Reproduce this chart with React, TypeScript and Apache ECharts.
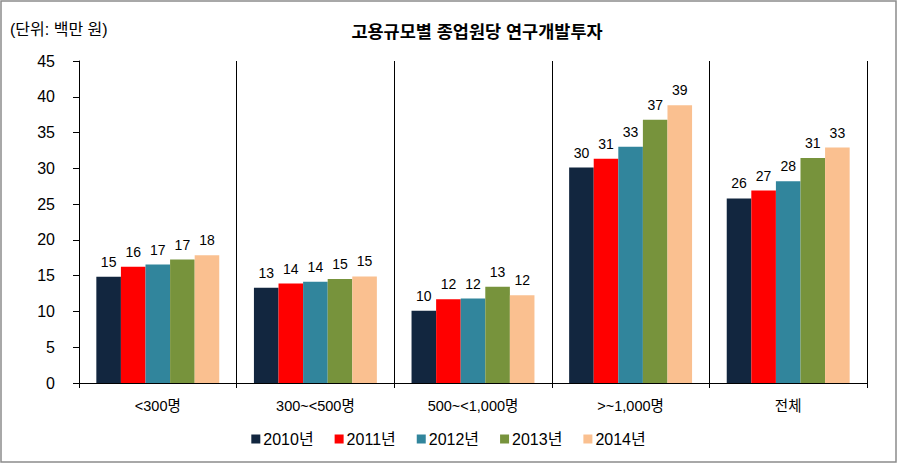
import React, { useEffect, useRef } from "react";
import * as echarts from "echarts";

const categories = ["<300명", "300~<500명", "500~<1,000명", ">~1,000명", "전체"];
const seriesNames = ["2010년", "2011년", "2012년", "2013년", "2014년"];
const v2010 = [14.85, 13.3, 10.1, 30.1, 25.8];
const v2011 = [16.25, 13.9, 11.7, 31.35, 26.9];
const v2012 = [16.55, 14.15, 11.8, 33.0, 28.2];
const v2013 = [17.25, 14.55, 13.45, 36.8, 31.45];
const v2014 = [17.85, 14.9, 12.25, 38.8, 32.9];
const colors = ["#12263F", "#FF0000", "#31859C", "#77933C", "#FAC090"];
const yTicks = [0, 5, 10, 15, 20, 25, 30, 35, 40, 45];

const FONT = "'Liberation Sans', Arial, 'Noto Sans CJK KR', sans-serif";

export default function App() {
  const ref = useRef<HTMLDivElement>(null);
  useEffect(() => {
    document.body.style.margin = "0";
    const chart = echarts.init(ref.current!, null, { renderer: "svg" });
    const values = [v2010, v2011, v2012, v2013, v2014];
    chart.setOption({
      animation: false,
      textStyle: { fontFamily: FONT },
      graphic: [
        {
          type: "rect",
          shape: { x: 1, y: 1, width: 895, height: 461 },
          style: { fill: "none", stroke: "#8c8c8c", lineWidth: 1.5 },
          silent: true,
        },
        {
          type: "text",
          left: 10,
          top: 21,
          style: { text: "(단위: 백만 원)", fontSize: 16, fill: "#000", fontFamily: FONT },
        },
      ],
      title: {
        text: "고용규모별 종업원당 연구개발투자",
        left: 472,
        textAlign: "center",
        top: 18,
        textStyle: { fontSize: 17.5, fontWeight: "bold", color: "#000", fontFamily: FONT },
      },
      legend: {
        bottom: 11,
        left: "center",
        itemWidth: 9,
        itemHeight: 9,
        itemGap: 21,
        icon: "rect",
        textStyle: { fontSize: 16, color: "#000", fontFamily: FONT, padding: [0, 0, 0, -2] },
        data: seriesNames,
      },
      grid: { left: 79, right: 30, top: 61, bottom: 80 },
      xAxis: {
        type: "category",
        data: categories,
        axisLine: { lineStyle: { color: "#000", width: 1 } },
        axisTick: { show: true, length: 5, lineStyle: { color: "#000" } },
        axisLabel: { color: "#000", fontSize: 14.5, margin: 16, fontFamily: FONT },
        splitLine: { show: true, lineStyle: { color: "#000", width: 1 } },
      },
      yAxis: {
        type: "value",
        min: 0,
        max: 45,
        interval: 5,
        axisLine: { show: true, lineStyle: { color: "#000", width: 1 } },
        axisTick: { show: true, length: 6, lineStyle: { color: "#000" } },
        axisLabel: {
          color: "#000",
          fontSize: 16,
          margin: 24,
          fontFamily: FONT,
          formatter: (v: number) => (yTicks.includes(v) ? String(v) : ""),
        },
        splitLine: { show: false },
      },
      series: seriesNames.map((name, i) => ({
        name,
        type: "bar",
        data: values[i],
        barGap: "0%",
        barCategoryGap: "22%",
        itemStyle: { color: colors[i] },
        label: {
          show: true,
          position: "top",
          distance: 8,
          color: "#000",
          fontSize: 14,
          fontFamily: FONT,
          formatter: (p: any) => String(Math.round(p.value)),
        },
      })),
    });
    return () => chart.dispose();
  }, []);
  return <div ref={ref} style={{ width: 897, height: 463 }} />;
}
